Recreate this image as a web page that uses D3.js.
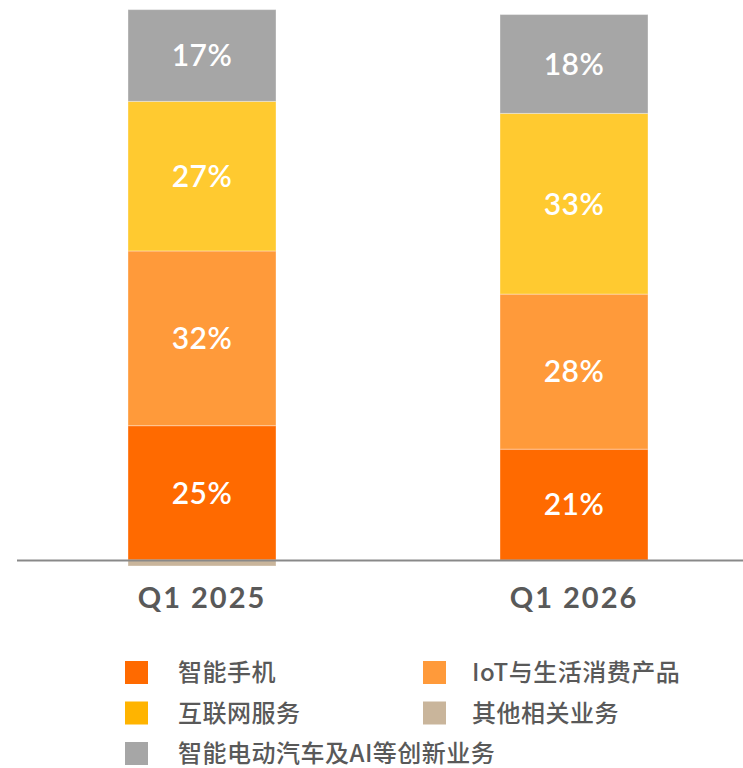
<!DOCTYPE html>
<html>
<head>
<meta charset="utf-8">
<script src="https://cdn.jsdelivr.net/npm/d3@7"></script>
<style>
  body { margin: 0; background: #fff; }
  svg { display: block; }
</style>
</head>
<body>
<div id="chart"></div>
<script>
// periods on the x axis
var periods = ["Q1 2025", "Q1 2026"];

// segment keys, bottom to top
var keys = ["phone", "iot", "internet", "ev", "other"];
var names = ["智能手机", "IoT与生活消费产品", "互联网服务", "智能电动汽车及AI等创新业务", "其他相关业务"];
var legendKeys = ["phone", "iot", "internet", "other", "ev"];

// share of revenue (%)
var phone    = [24.6, 20.3];
var iot      = [32.0, 28.4];
var internet = [27.4, 33.1];
var ev       = [16.8, 18.1];
var other    = [-1.1, 0];

// printed labels
var phoneLbl    = ["25%", "21%"];
var iotLbl      = ["32%", "28%"];
var internetLbl = ["27%", "33%"];
var evLbl       = ["17%", "18%"];

var W = 743, H = 768;
var barW = 148;

var color = {phone: "#FF6A00", iot: "#FF9A3A", internet: "#FFCA30", ev: "#A6A6A6", other: "#C9B59B"};
var legendColor = {phone: "#FF6A00", iot: "#FF9A3A", internet: "#FFB400", ev: "#A6A6A6", other: "#C9B59B"};

var rows = periods.map(function(p, i) {
  return {period: p, phone: phone[i], iot: iot[i], internet: internet[i], ev: ev[i], other: other[i]};
});
var labels = {phone: phoneLbl, iot: iotLbl, internet: internetLbl, ev: evLbl};

var svg = d3.select("#chart").append("svg")
  .attr("width", W)
  .attr("height", H);

var x = d3.scalePoint().domain(periods).range([202, 574]);
var y = d3.scaleLinear().domain([0, 100]).range([560, 14]);

var series = d3.stack()
  .keys(keys)
  .offset(d3.stackOffsetDiverging)(rows);

var g = svg.selectAll(".layer")
  .data(series)
  .enter()
  .append("g")
  .attr("class", "layer")
  .attr("fill", function(d) { return color[d.key]; });

g.selectAll("rect")
  .data(function(d) { return d; })
  .enter()
  .append("rect")
  .attr("x", function(d) { return x(d.data.period) - barW / 2; })
  .attr("y", function(d) { return y(Math.max(d[0], d[1])); })
  .attr("width", barW)
  .attr("height", function(d) { return Math.abs(y(d[0]) - y(d[1])); })
  .attr("stroke", "#fff")
  .attr("stroke-opacity", 0.35)
  .attr("stroke-width", 1);

// value labels
series.forEach(function(s) {
  if (!labels[s.key]) return;
  s.forEach(function(d, i) {
    svg.append("text")
      .attr("x", x(d.data.period))
      .attr("y", (y(d[0]) + y(d[1])) / 2)
      .attr("dy", "0.36em")
      .attr("text-anchor", "middle")
      .attr("fill", "#fff")
      .attr("font-family", "Lato, sans-serif")
      .attr("font-weight", 600)
      .attr("font-size", 30)
      .attr("letter-spacing", 0.5)
      .text(labels[s.key][i]);
  });
});

// baseline
svg.append("line")
  .attr("x1", 17).attr("x2", W)
  .attr("y1", y(0) + 0.5).attr("y2", y(0) + 0.5)
  .attr("stroke", "#898989")
  .attr("stroke-width", 2);

// period labels
svg.selectAll(".period")
  .data(periods)
  .enter()
  .append("text")
  .attr("class", "period")
  .attr("x", function(d) { return x(d); })
  .attr("y", 608)
  .attr("text-anchor", "middle")
  .attr("fill", "#595959")
  .attr("font-family", "Lato, sans-serif")
  .attr("font-weight", 700)
  .attr("font-size", 29)
  .attr("letter-spacing", 2)
  .text(function(d) { return d; });

// legend
var legend = svg.selectAll(".legend")
  .data(legendKeys)
  .enter()
  .append("g")
  .attr("class", "legend")
  .attr("transform", function(d, i) {
    var col = i % 2, row = Math.floor(i / 2);
    return "translate(" + (col ? 423 : 125) + "," + (661 + row * 40.5) + ")";
  });

legend.append("rect")
  .attr("width", 23)
  .attr("height", 23)
  .attr("fill", function(d) { return legendColor[d]; });

legend.append("text")
  .attr("x", function(d, i) { return i % 2 ? 49 : 53; })
  .attr("y", 11.5)
  .attr("dy", "0.36em")
  .attr("fill", "#595959")
  .attr("font-family", "'Noto Sans CJK SC', Lato, sans-serif")
  .attr("font-weight", 500)
  .attr("font-size", 24)
  .attr("letter-spacing", 0.5)
  .text(function(d) { return names[keys.indexOf(d)]; });
</script>
</body>
</html>
